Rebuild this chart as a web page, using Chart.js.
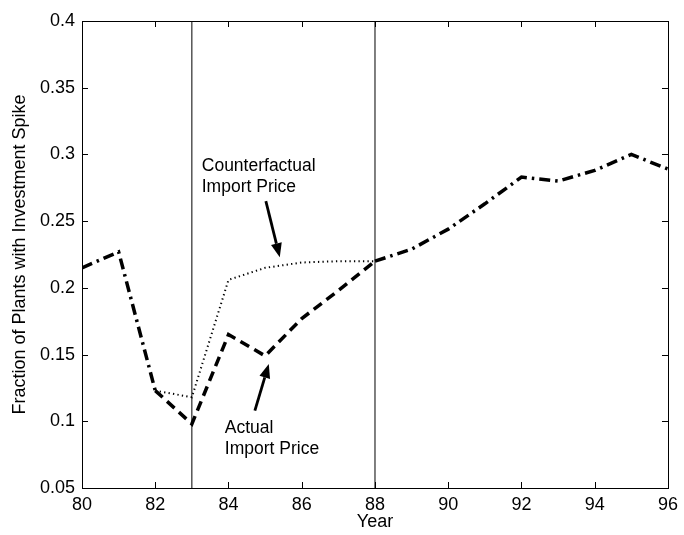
<!DOCTYPE html>
<html>
<head>
<meta charset="utf-8">
<script src="https://cdn.jsdelivr.net/npm/chart.js@4/dist/chart.umd.min.js"></script>
<style>
  html, body { margin: 0; padding: 0; background: #fff; }
  #c { display: block; }
</style>
</head>
<body>
<canvas id="c" width="684" height="535"></canvas>
<script>
// ---- Data ----
const years = [80, 81, 82, 83, 84, 85, 86, 87, 88, 89, 90, 91, 92, 93, 94, 95, 96];
// shared path (dash-dot), null where the two scenarios differ
const sharedValues = [0.215, 0.227, 0.123, null, null, null, null, null, 0.220, 0.229, 0.244, 0.263, 0.283, 0.280, 0.288, 0.300, 0.289];
const scenarioYears = [82, 83, 84, 85, 86, 87, 88];
const actualValues = [0.123, 0.098, 0.165, 0.149, 0.177, 0.198, 0.220];
const counterfactualValues = [0.123, 0.118, 0.206, 0.215, 0.219, 0.220, 0.220];
const markerYears = [83, 88];
const xTickValues = [80, 82, 84, 86, 88, 90, 92, 94, 96];
const yTickValues = [0.05, 0.1, 0.15, 0.2, 0.25, 0.3, 0.35, 0.4];
const annotationTexts = [
  { lines: ["Counterfactual", "Import Price"], x: 83.27, y: 0.2876 },
  { lines: ["Actual", "Import Price"], x: 83.9, y: 0.091 }
];
const arrows = [
  { from: [85.02, 0.265], to: [85.40, 0.223] },
  { from: [84.72, 0.108], to: [85.10, 0.143] }
];

const FONT = "'Liberation Sans', Arial, Helvetica, sans-serif";

const toXY = (xs, ys) => xs.map((x, i) => ({ x: x, y: ys[i] }));

const datasets = [];
markerYears.forEach(m => {
  datasets.push({
    data: [{ x: m, y: 0.05 }, { x: m, y: 0.4 }],
    borderColor: '#000', borderWidth: 1, pointRadius: 0, fill: false
  });
});
datasets.push({
  data: toXY(scenarioYears, counterfactualValues),
  borderColor: '#000', borderWidth: 2, borderDash: [1.3, 3.2], pointRadius: 0, fill: false
});
datasets.push({
  data: toXY(scenarioYears, actualValues),
  borderColor: '#000', borderWidth: 3.5, borderDash: [10, 6], pointRadius: 0, fill: false
});
datasets.push({
  data: toXY(years, sharedValues),
  borderColor: '#000', borderWidth: 3.5, borderDash: [11, 5, 2.5, 5], pointRadius: 0, fill: false, spanGaps: false
});

const framePlugin = {
  id: 'frame',
  afterDraw(chart) {
    const ctx = chart.ctx;
    const a = chart.chartArea;
    const xs = chart.scales.x, ys = chart.scales.y;
    ctx.save();
    ctx.strokeStyle = '#000';
    ctx.lineWidth = 1;
    ctx.strokeRect(Math.round(a.left) + 0.5, Math.round(a.top) + 0.5, Math.round(a.right - a.left), Math.round(a.bottom - a.top));
    const TL = 6;
    ctx.beginPath();
    xTickValues.forEach(v => {
      const px = Math.round(xs.getPixelForValue(v)) + 0.5;
      ctx.moveTo(px, a.bottom); ctx.lineTo(px, a.bottom - TL);
      ctx.moveTo(px, a.top); ctx.lineTo(px, a.top + TL);
    });
    yTickValues.forEach(v => {
      const py = Math.round(ys.getPixelForValue(v)) + 0.5;
      ctx.moveTo(a.left, py); ctx.lineTo(a.left + TL, py);
      ctx.moveTo(a.right, py); ctx.lineTo(a.right - TL, py);
    });
    ctx.stroke();

    // annotation texts
    ctx.fillStyle = '#000';
    ctx.font = '17.5px ' + FONT;
    ctx.textAlign = 'left';
    ctx.textBaseline = 'alphabetic';
    annotationTexts.forEach(t => {
      const px = xs.getPixelForValue(t.x);
      const py = ys.getPixelForValue(t.y);
      t.lines.forEach((ln, i) => ctx.fillText(ln, px, py + i * 21));
    });

    // arrows
    arrows.forEach(ar => {
      const x1 = xs.getPixelForValue(ar.from[0]), y1 = ys.getPixelForValue(ar.from[1]);
      const x2 = xs.getPixelForValue(ar.to[0]), y2 = ys.getPixelForValue(ar.to[1]);
      const ang = Math.atan2(y2 - y1, x2 - x1);
      const hl = 14, hw = 5.5;
      const bx = x2 - hl * Math.cos(ang), by = y2 - hl * Math.sin(ang);
      ctx.lineWidth = 2.8;
      ctx.beginPath();
      ctx.moveTo(x1, y1); ctx.lineTo(bx, by);
      ctx.stroke();
      ctx.beginPath();
      ctx.moveTo(x2, y2);
      ctx.lineTo(bx + hw * Math.sin(ang), by - hw * Math.cos(ang));
      ctx.lineTo(bx - hw * Math.sin(ang), by + hw * Math.cos(ang));
      ctx.closePath();
      ctx.fill();
    });
    ctx.restore();
  }
};

new Chart(document.getElementById('c'), {
  type: 'line',
  data: { datasets: datasets },
  options: {
    responsive: false,
    animation: false,
    layout: { padding: { left: 0, right: 12, top: 21, bottom: 0 } },
    plugins: { legend: { display: false }, tooltip: { enabled: false } },
    scales: {
      x: {
        type: 'linear', min: 80, max: 96,
        afterBuildTicks: s => { s.ticks = xTickValues.map(v => ({ value: v })); },
        afterFit: s => { s.height = 47; },
        grid: { display: false, drawTicks: false },
        border: { display: false },
        ticks: { color: '#000', font: { family: FONT, size: 18 }, padding: 6, maxRotation: 0,
                 callback: v => String(v) },
        title: { display: true, text: 'Year', color: '#000', font: { family: FONT, size: 18 },
                 padding: { top: 0, bottom: 2 } }
      },
      y: {
        type: 'linear', min: 0.05, max: 0.4,
        afterBuildTicks: s => { s.ticks = yTickValues.map(v => ({ value: v })); },
        afterFit: s => { s.width = 82; },
        grid: { display: false, drawTicks: false },
        border: { display: false },
        ticks: { color: '#000', font: { family: FONT, size: 18 }, padding: 7,
                 callback: v => String(Number(v.toFixed(2))) },
        title: { display: true, text: 'Fraction of Plants with Investment Spike', color: '#000',
                 font: { family: FONT, size: 18 }, padding: { top: 9, bottom: 0 } }
      }
    }
  },
  plugins: [framePlugin]
});
</script>
</body>
</html>
